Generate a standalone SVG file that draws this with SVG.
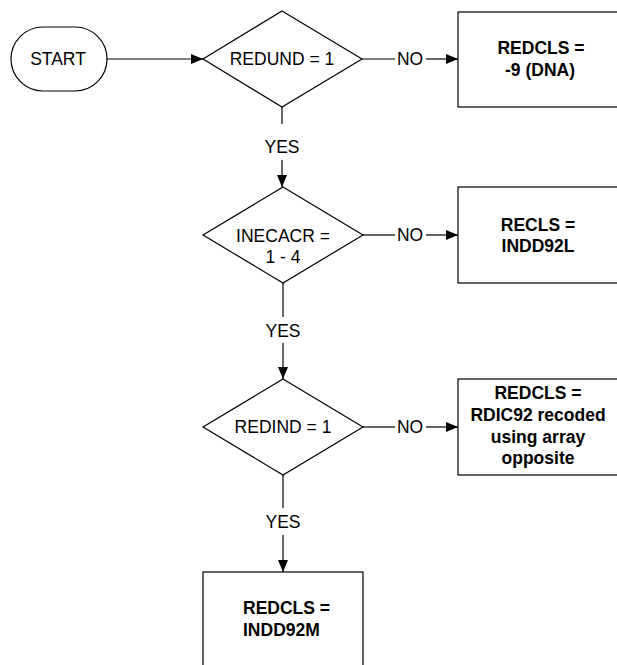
<svg xmlns="http://www.w3.org/2000/svg" width="617" height="665" viewBox="0 0 617 665">
<style>
.shape{fill:#fff;stroke:#000;stroke-width:1.2}
.ln{fill:none;stroke:#000;stroke-width:1.2}
.t{font-family:"Liberation Sans",Arial,sans-serif;font-size:17.5px;fill:#000;text-anchor:middle}
.b{font-weight:bold}
</style>
<defs>
<marker id="ah" viewBox="0 0 12 10" refX="12" refY="5" markerWidth="12" markerHeight="10" markerUnits="userSpaceOnUse" orient="auto">
<path d="M0,0 L12,5 L0,10 Z" fill="#000"/>
</marker>
</defs>
<rect width="617" height="665" fill="#fff"/>
<g id="connectors">
<line class="ln" x1="107" y1="59" x2="203" y2="59" marker-end="url(#ah)"/>
<line class="ln" x1="362" y1="59" x2="395" y2="59"/>
<line class="ln" x1="426" y1="59" x2="458" y2="59" marker-end="url(#ah)"/>
<text class="t" x="410" y="65">NO</text>
<line class="ln" x1="282" y1="107" x2="282" y2="124"/>
<line class="ln" x1="282" y1="160" x2="282" y2="187" marker-end="url(#ah)"/>
<text class="t" x="282" y="153">YES</text>
<line class="ln" x1="363" y1="235" x2="395" y2="235"/>
<line class="ln" x1="426" y1="235" x2="458" y2="235" marker-end="url(#ah)"/>
<text class="t" x="410" y="241">NO</text>
<line class="ln" x1="283" y1="283" x2="283" y2="317"/>
<line class="ln" x1="283" y1="343" x2="283" y2="379" marker-end="url(#ah)"/>
<text class="t" x="283" y="337">YES</text>
<line class="ln" x1="363" y1="427" x2="395" y2="427"/>
<line class="ln" x1="426" y1="427" x2="458" y2="427" marker-end="url(#ah)"/>
<text class="t" x="410" y="433">NO</text>
<line class="ln" x1="283" y1="475" x2="283" y2="508"/>
<line class="ln" x1="283" y1="535" x2="283" y2="572" marker-end="url(#ah)"/>
<text class="t" x="283" y="528">YES</text>
</g>
<g id="start">
<rect class="shape" x="11" y="27" width="96" height="64" rx="32" ry="32"/>
<text class="t" x="58" y="65">START</text>
</g>
<g id="d1">
<polygon class="shape" points="282,11 362,59 282,107 203,59"/>
<text class="t" x="282" y="65">REDUND = 1</text>
</g>
<g id="b1">
<rect class="shape" x="458" y="12" width="200" height="95"/>
<text class="t b" x="541" y="54">REDCLS =</text>
<text class="t b" x="540" y="76">-9 (DNA)</text>
</g>
<g id="d2">
<polygon class="shape" points="283,187 363,235 283,283 203,235"/>
<text class="t" x="283" y="242">INECACR =</text>
<text class="t" x="283" y="263">1 - 4</text>
</g>
<g id="b2">
<rect class="shape" x="458" y="187" width="200" height="96"/>
<text class="t b" x="538" y="231">RECLS =</text>
<text class="t b" x="538" y="252">INDD92L</text>
</g>
<g id="d3">
<polygon class="shape" points="283,379 363,427 283,475 203,427"/>
<text class="t" x="283" y="433">REDIND = 1</text>
</g>
<g id="b3">
<rect class="shape" x="458" y="379" width="200" height="96"/>
<text class="t b" x="538" y="399">REDCLS =</text>
<text class="t b" x="538" y="421">RDIC92 recoded</text>
<text class="t b" x="538" y="443">using array</text>
<text class="t b" x="538" y="464">opposite</text>
</g>
<g id="b4">
<rect class="shape" x="203" y="572" width="160" height="120"/>
<text class="t b" x="243" y="614" style="text-anchor:start">REDCLS =</text>
<text class="t b" x="243" y="636" style="text-anchor:start">INDD92M</text>
</g>
</svg>
